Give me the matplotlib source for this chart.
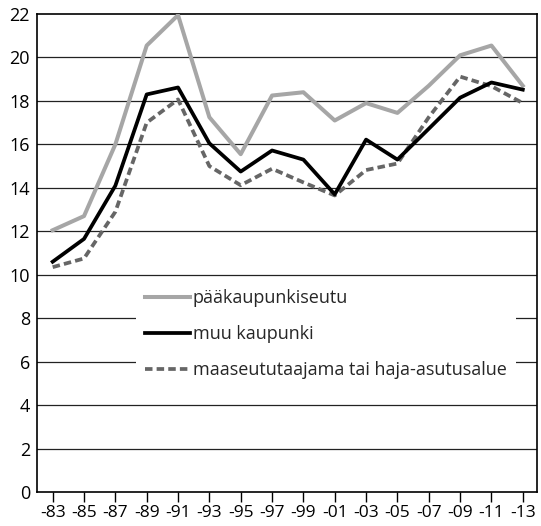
import numpy as np
import matplotlib.pyplot as plt

plt.rcParams['font.family'] = ['Open Sans', 'DejaVu Sans']

years = ['-83', '-85', '-87', '-89', '-91', '-93', '-95', '-97',
         '-99', '-01', '-03', '-05', '-07', '-09', '-11', '-13']
paakaupunkiseutu = [12.05, 12.7, 16.0, 20.55, 21.95, 17.25, 15.55, 18.25,
                    18.4, 17.1, 17.9, 17.45, 18.7, 20.1, 20.55, 18.7]
muu_kaupunki = [10.6, 11.65, 14.1, 18.3, 18.62, 16.05, 14.75, 15.72,
                15.3, 13.7, 16.22, 15.3, 16.72, 18.15, 18.85, 18.52]
maaseutu = [10.35, 10.75, 12.9, 17.0, 18.07, 15.0, 14.12, 14.88,
            14.25, 13.65, 14.82, 15.12, 17.25, 19.12, 18.68, 17.9]

x = np.arange(len(years))

fig = plt.figure(figsize=(5.41, 5.26), dpi=100)
ax = fig.add_axes([0.0684, 0.0646, 0.924, 0.9087])

for y in range(2, 22, 2):
    ax.axhline(y, color='#222222', lw=0.9, zorder=1)

ax.plot(x, paakaupunkiseutu, color='#a6a6a6', lw=2.9, label='pääkaupunkiseutu', zorder=3)
ax.plot(x, muu_kaupunki, color='#000000', lw=2.7, label='muu kaupunki', zorder=4)
ax.plot(x, maaseutu, color='#666666', lw=2.7, dashes=(2.0, 1.1),
        label='maaseututaajama tai haja-asutusalue', zorder=3)

ax.set_ylim(0, 22)
ax.set_xlim(-0.5, 15.45)
ax.set_yticks(range(0, 23, 2))
ax.set_xticks(x)
ax.set_xticklabels(years)

ax.tick_params(axis='y', length=0, labelsize=13, pad=5)
ax.tick_params(axis='x', direction='out', length=7, width=1, labelsize=12.5, pad=2)
for s in ax.spines.values():
    s.set_color('black')
    s.set_linewidth(1.2)

leg = ax.legend(loc='upper left', bbox_to_anchor=(0.18, 0.462), frameon=True,
                fontsize=13, handlelength=2.5, handletextpad=0.15,
                labelspacing=1.0, borderpad=0.5, edgecolor='none',
                facecolor='white', framealpha=1.0, fancybox=False)
for t in leg.get_texts():
    t.set_color('#262626')

fig.savefig('out.png', dpi=100)
